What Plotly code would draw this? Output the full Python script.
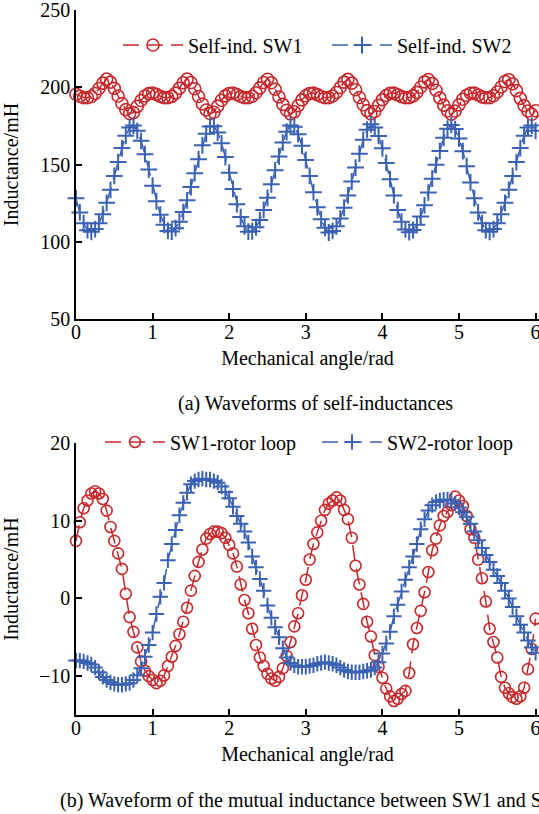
import plotly.graph_objects as go

# ---------------- data ----------------
angle = [0.00, 0.05, 0.10, 0.15, 0.20, 0.25, 0.30, 0.35, 0.40, 0.45,
         0.50, 0.55, 0.60, 0.65, 0.70, 0.75, 0.80, 0.85, 0.90, 0.95,
         1.00, 1.05, 1.10, 1.15, 1.20, 1.25, 1.30, 1.35, 1.40, 1.45,
         1.50, 1.55, 1.60, 1.65, 1.70, 1.75, 1.80, 1.85, 1.90, 1.95,
         2.00, 2.05, 2.10, 2.15, 2.20, 2.25, 2.30, 2.35, 2.40, 2.45,
         2.50, 2.55, 2.60, 2.65, 2.70, 2.75, 2.80, 2.85, 2.90, 2.95,
         3.00, 3.05, 3.10, 3.15, 3.20, 3.25, 3.30, 3.35, 3.40, 3.45,
         3.50, 3.55, 3.60, 3.65, 3.70, 3.75, 3.80, 3.85, 3.90, 3.95,
         4.00, 4.05, 4.10, 4.15, 4.20, 4.25, 4.30, 4.35, 4.40, 4.45,
         4.50, 4.55, 4.60, 4.65, 4.70, 4.75, 4.80, 4.85, 4.90, 4.95,
         5.00, 5.05, 5.10, 5.15, 5.20, 5.25, 5.30, 5.35, 5.40, 5.45,
         5.50, 5.55, 5.60, 5.65, 5.70, 5.75, 5.80, 5.85, 5.90, 5.95,
         6.00]

self_sw1 = [195.5, 194.2, 193.3, 193.2, 194.0, 196.0, 199.2, 202.7, 205.3, 203.3,
            199.3, 194.3, 189.5, 185.5, 183.0, 183.6, 187.6, 191.4, 194.3, 195.9,
            196.3, 195.4, 194.1, 193.3, 193.2, 194.1, 196.2, 199.4, 202.9, 205.3,
            203.1, 199.0, 194.0, 189.2, 185.3, 183.0, 183.8, 187.8, 191.6, 194.4,
            196.0, 196.3, 195.3, 194.0, 193.3, 193.2, 194.2, 196.4, 199.6, 203.1,
            205.2, 202.9, 198.7, 193.7, 188.9, 185.1, 182.8, 184.1, 188.1, 191.8,
            194.5, 196.0, 196.2, 195.2, 194.0, 193.2, 193.3, 194.3, 196.6, 199.8,
            203.3, 205.1, 202.7, 198.4, 193.4, 188.7, 184.9, 182.8, 184.3, 188.3,
            192.0, 194.7, 196.1, 196.2, 195.1, 193.9, 193.2, 193.3, 194.4, 196.7,
            200.0, 203.5, 205.0, 202.5, 198.1, 193.1, 188.4, 184.8, 182.6, 184.6,
            188.6, 192.2, 194.8, 196.1, 196.2, 195.0, 193.8, 193.2, 193.3, 194.5,
            196.9, 200.2, 203.7, 204.9, 202.3, 197.8, 192.8, 188.1, 184.6, 182.5,
            184.8]

self_sw2 = [128.1, 119.0, 112.0, 107.5, 106.4, 108.2, 112.0, 117.8, 125.2, 133.6,
            142.6, 151.6, 160.6, 168.6, 173.9, 175.2, 171.8, 165.3, 156.7, 146.8,
            136.3, 126.2, 117.5, 111.0, 107.0, 106.6, 108.8, 113.0, 119.2, 126.8,
            135.4, 144.4, 153.4, 162.4, 169.9, 174.6, 174.8, 170.7, 163.7, 154.8,
            144.7, 134.2, 124.3, 116.0, 110.0, 106.5, 106.8, 109.4, 114.0, 120.6,
            128.4, 137.2, 146.2, 155.2, 164.2, 171.2, 175.3, 174.4, 169.6, 162.1,
            152.9, 142.6, 132.1, 122.4, 114.5, 109.0, 106.0, 107.0, 110.0, 115.0,
            122.0, 130.0, 139.0, 148.0, 157.0, 166.0, 172.5, 176.0, 174.0, 168.5,
            160.5, 151.0, 140.5, 130.0, 120.5, 113.0, 108.0, 106.2, 107.6, 111.0,
            116.4, 123.6, 131.8, 140.8, 149.8, 158.8, 167.3, 173.2, 175.6, 172.9,
            166.9, 158.6, 148.9, 138.4, 128.1, 119.0, 112.0, 107.5, 106.4, 108.2,
            112.0, 117.8, 125.2, 133.6, 142.6, 151.6, 160.6, 168.6, 173.9, 175.2,
            171.8]

mutual_sw1 = [7.4, 9.8, 11.6, 12.6, 13.5, 13.8, 13.5, 12.8, 11.3, 9.2,
              7.4, 5.8, 3.8, 0.6, -2.4, -4.3, -6.3, -8.1, -9.3, -10.0,
              -10.5, -10.9, -10.6, -9.9, -8.7, -7.5, -6.1, -4.6, -3.0, -1.2,
              1.0, 2.9, 4.7, 6.3, 7.7, 8.3, 8.6, 8.6, 8.4, 7.8,
              6.9, 5.8, 4.1, 1.8, -0.2, -1.9, -3.9, -6.0, -7.6, -8.7,
              -9.7, -10.3, -10.6, -10.1, -9.0, -7.4, -5.6, -3.6, -1.9, 0.4,
              2.4, 5.0, 7.0, 8.5, 10.0, 11.4, 12.2, 12.6, 13.0, 12.6,
              11.4, 10.2, 7.8, 4.2, 1.8, -0.7, -3.0, -4.9, -7.3, -8.8,
              -10.2, -11.6, -12.6, -13.2, -12.9, -12.3, -11.9, -9.6, -5.9, -3.8,
              -1.6, 0.8, 3.4, 6.2, 7.7, 9.4, 10.6, 11.1, 12.0, 13.1,
              12.6, 11.9, 10.6, 8.9, 7.8, 5.0, 2.6, -0.4, -3.9, -5.6,
              -7.6, -10.1, -11.5, -12.2, -12.7, -12.9, -12.6, -11.5, -9.1, -6.5,
              -2.6]

mutual_sw2 = [-8.0, -8.0, -8.1, -8.3, -8.5, -8.9, -9.5, -10.1, -10.5, -10.8,
              -11.0, -11.1, -11.1, -11.0, -10.9, -10.5, -9.9, -9.0, -7.5, -6.0,
              -4.4, -2.0, 0.2, 2.0, 4.9, 7.0, 8.8, 10.7, 12.3, 13.6,
              14.7, 15.1, 15.3, 15.4, 15.3, 15.3, 15.1, 14.9, 14.4, 13.7,
              12.9, 11.8, 10.6, 9.6, 8.6, 7.2, 5.4, 4.0, 2.5, 1.0,
              -0.9, -2.5, -3.7, -5.0, -6.4, -7.6, -8.3, -8.6, -8.8, -8.8,
              -8.8, -8.7, -8.6, -8.4, -8.3, -8.2, -8.3, -8.4, -8.6, -8.9,
              -9.2, -9.4, -9.5, -9.5, -9.5, -9.4, -9.3, -9.2, -8.9, -8.2,
              -7.1, -5.8, -4.3, -2.3, -0.8, 0.9, 2.4, 4.0, 5.4, 7.0,
              8.9, 10.2, 11.3, 12.0, 12.4, 12.6, 12.7, 12.7, 12.6, 12.2,
              11.7, 11.1, 10.5, 9.6, 8.6, 7.5, 6.5, 5.6, 4.7, 3.7,
              2.9, 2.0, 1.0, 0.0, -1.1, -2.3, -3.4, -4.4, -5.4, -6.3,
              -7.0]

top_ticks = [50, 100, 150, 200, 250]
bottom_ticks = [-10, 0, 10, 20]
x_ticks = [0, 1, 2, 3, 4, 5, 6]

# ---------------- styling ----------------
RED = "#C8282C"
BLUE = "#3A62B4"
FONT = "Liberation Serif, Times New Roman, serif"
W, H = 539, 814
L = 76             # left margin so that x = 0 falls at x = 76 px
PW = W - L         # plot width in px
PX_PER_RAD = 76.6


def py(p):
    """y-pixel from top -> paper fraction"""
    return 1 - p / H


def px(p):
    """x-pixel from left -> paper fraction"""
    return (p - L) / PW


fig = go.Figure()

fig.add_trace(go.Scatter(x=angle, y=self_sw1, name="Self-ind. SW1", mode="lines+markers",
                         line=dict(color=RED, width=1.5, dash="16px,8px"),
                         marker=dict(symbol="circle-open", size=12, color=RED, line=dict(width=1.6, color=RED)),
                         xaxis="x", yaxis="y", legend="legend", cliponaxis=False))
fig.add_trace(go.Scatter(x=angle, y=self_sw2, name="Self-ind. SW2", mode="lines+markers",
                         line=dict(color=BLUE, width=1.5, dash="16px,8px"),
                         marker=dict(symbol="cross-thin-open", size=12, color=BLUE, line=dict(width=2, color=BLUE)),
                         xaxis="x", yaxis="y", legend="legend", cliponaxis=False))
fig.add_trace(go.Scatter(x=angle, y=mutual_sw1, name="SW1-rotor loop", mode="lines+markers",
                         line=dict(color=RED, width=1.5, dash="16px,8px"),
                         marker=dict(symbol="circle-open", size=11, color=RED, line=dict(width=1.6, color=RED)),
                         xaxis="x2", yaxis="y2", legend="legend2", cliponaxis=False))
fig.add_trace(go.Scatter(x=angle, y=mutual_sw2, name="SW2-rotor loop", mode="lines+markers",
                         line=dict(color=BLUE, width=1.5, dash="16px,8px"),
                         marker=dict(symbol="cross-thin-open", size=11, color=BLUE, line=dict(width=2, color=BLUE)),
                         xaxis="x2", yaxis="y2", legend="legend2", cliponaxis=False))

xrange = [0, PW / PX_PER_RAD]
axis_common = dict(showline=True, linecolor="black", linewidth=1.5, ticks="inside", ticklen=6,
                   tickwidth=1.5, tickcolor="black", showgrid=False, zeroline=False,
                   tickfont=dict(family=FONT, size=20, color="black"), mirror=False,
                   ticklabeloverflow="allow")
xaxis_extra = dict(ticklabelstandoff=-6,
                   title=dict(text="Mechanical angle/rad", standoff=9, font=dict(family=FONT, size=20)))
yaxis_extra = dict(title=dict(text="Inductance/mH", standoff=20, font=dict(family=FONT, size=20)))

fig.update_layout(
    width=W, height=H,
    margin=dict(l=L, r=0, t=0, b=0, autoexpand=False),
    paper_bgcolor="white", plot_bgcolor="white",
    font=dict(family=FONT, size=20, color="black"),
    xaxis=dict(domain=[0, 1], range=xrange, tickvals=x_ticks, anchor="y", **axis_common, **xaxis_extra),
    yaxis=dict(domain=[py(319), py(10)], range=[50, 250], tickvals=top_ticks, anchor="x",
               **axis_common, **yaxis_extra),
    xaxis2=dict(domain=[0, 1], range=xrange, tickvals=x_ticks, anchor="y2", **axis_common, **xaxis_extra),
    yaxis2=dict(domain=[py(715), py(443)], range=[-15, 20], tickvals=bottom_ticks, anchor="x2",
                **axis_common, **yaxis_extra),
    legend=dict(orientation="h", x=px(118), y=py(45), xanchor="left", yanchor="middle",
                bgcolor="rgba(0,0,0,0)", font=dict(family=FONT, size=20), entrywidth=134,
                entrywidthmode="pixels", itemwidth=60),
    legend2=dict(orientation="h", x=px(100), y=py(442), xanchor="left", yanchor="middle",
                 bgcolor="rgba(0,0,0,0)", font=dict(family=FONT, size=20), entrywidth=142,
                 entrywidthmode="pixels", itemwidth=60),
    showlegend=True,
    annotations=[
        dict(text="(a) Waveforms of self-inductances", xref="paper", yref="paper",
             x=px(315), y=py(403), xanchor="center", yanchor="middle",
             showarrow=False, font=dict(family=FONT, size=20, color="black")),
        dict(text="(b) Waveform of the mutual inductance between SW1 and SW2", xref="paper", yref="paper",
             x=px(315), y=py(800), xanchor="center", yanchor="middle",
             showarrow=False, font=dict(family=FONT, size=20, color="black")),
    ],
)

fig.write_html("out.html",
               config={"displayModeBar": False},
               post_script="document.body.style.margin='0px';"
                           "document.documentElement.style.overflow='hidden';"
                           "document.body.style.overflow='hidden';")
